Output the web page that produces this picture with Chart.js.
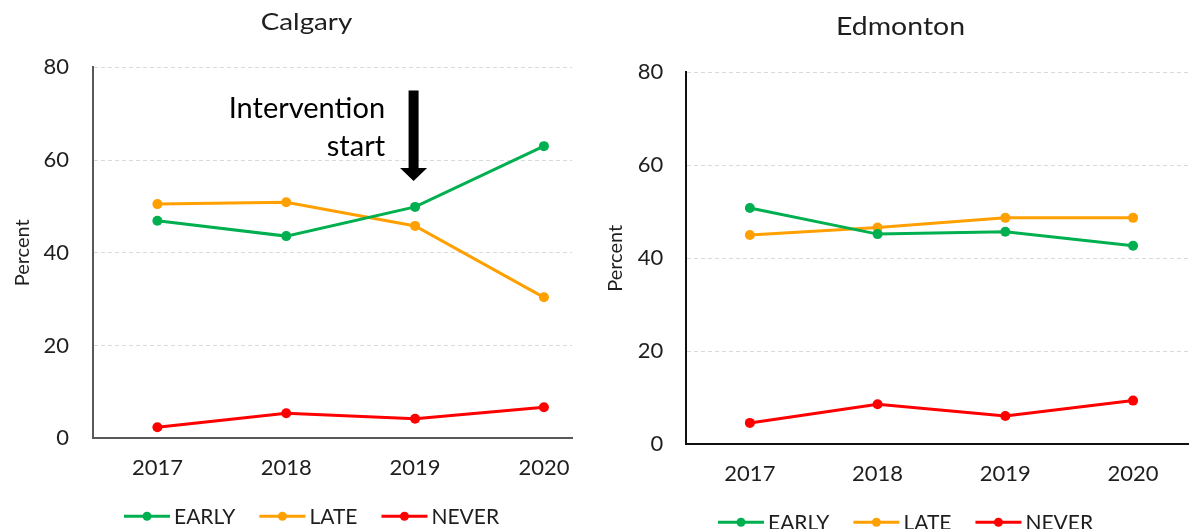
<!DOCTYPE html>
<html>
<head>
<meta charset="utf-8">
<script src="https://cdn.jsdelivr.net/npm/chart.js@4.4.1/dist/chart.umd.min.js"></script>
<style>
  html, body { margin: 0; padding: 0; background: #ffffff; }
  body { width: 1193px; height: 529px; position: relative; overflow: hidden; }
  .panel { position: absolute; top: 0; height: 529px; }
</style>
</head>
<body>
<div class="panel" style="left:0;width:596px"><canvas id="calgary" width="596" height="529"></canvas></div>
<div class="panel" style="left:596px;width:597px"><canvas id="edmonton" width="597" height="529"></canvas></div>
<script>
// Survey years on the x axis
const years = ['2017', '2018', '2019', '2020'];
// Percent axis
const yTicks = [0, 20, 40, 60, 80];

// Series names and colours
const seriesNames = ['EARLY', 'LATE', 'NEVER'];
const seriesColors = ['#00B050', '#FFA000', '#FF0000'];

// Calgary, percent by year
const calgaryEarly = [46.9, 43.6, 49.9, 63.0];
const calgaryLate  = [50.5, 50.9, 45.8, 30.4];
const calgaryNever = [2.4, 5.4, 4.2, 6.7];

// Edmonton, percent by year
const edmontonEarly = [50.8, 45.2, 45.7, 42.7];
const edmontonLate  = [45.0, 46.6, 48.7, 48.7];
const edmontonNever = [4.6, 8.6, 6.1, 9.4];

// Intervention marker (Calgary): year index and arrow span in percent units
const interventionText = ['Intervention', 'start'];
const interventionYear = 2;
const arrowTop = 75.0;
const arrowTip = 55.5;

const FONT = 'Lato, "Open Sans", sans-serif';
const TEXT = '#1e1e1e';

// Chart heading, drawn slightly widened
const panelTitle = {
  id: 'panelTitle',
  afterDraw(chart, args, o) {
    const ctx = chart.ctx;
    ctx.save();
    ctx.font = o.size + 'px ' + FONT;
    ctx.fillStyle = TEXT;
    ctx.textAlign = 'center';
    ctx.textBaseline = 'alphabetic';
    const w = ctx.measureText(o.text).width;
    const sx = o.width / w;
    ctx.translate(o.x, o.baseline);
    ctx.scale(sx, 1);
    ctx.fillText(o.text, 0, 0);
    ctx.restore();
  }
};

// Legend drawn as line + marker samples below the x axis
const lineLegend = {
  id: 'lineLegend',
  afterDraw(chart, args, opts) {
    const ctx = chart.ctx;
    const y = chart.chartArea.bottom + opts.offsetY;
    let x = opts.startX;
    ctx.save();
    ctx.font = '21px ' + FONT;
    ctx.textBaseline = 'middle';
    ctx.textAlign = 'left';
    chart.data.datasets.forEach(ds => {
      ctx.strokeStyle = ds.borderColor;
      ctx.lineWidth = 3;
      ctx.beginPath();
      ctx.moveTo(x, y);
      ctx.lineTo(x + 46, y);
      ctx.stroke();
      ctx.fillStyle = ds.borderColor;
      ctx.beginPath();
      ctx.arc(x + 23, y, 4.5, 0, Math.PI * 2);
      ctx.fill();
      ctx.fillStyle = TEXT;
      ctx.fillText(ds.label, x + 50, y + 1);
      x += 50 + ctx.measureText(ds.label).width + 24;
    });
    ctx.restore();
  }
};

// Arrow and caption marking the start of the intervention
const interventionMark = {
  id: 'interventionMark',
  afterDatasetsDraw(chart, args, opts) {
    if (!opts.show) return;
    const ctx = chart.ctx;
    const xs = chart.scales.x, ys = chart.scales.y;
    const cx = xs.getPixelForValue(interventionYear) - 1.5;
    const top = ys.getPixelForValue(arrowTop);
    const tip = ys.getPixelForValue(arrowTip);
    const headH = 13, headW = 13.5, shaftW = 5;
    ctx.save();
    ctx.fillStyle = '#000000';
    ctx.fillRect(cx - shaftW, top, shaftW * 2, tip - top - headH + 1);
    ctx.beginPath();
    ctx.moveTo(cx - headW, tip - headH);
    ctx.lineTo(cx + headW, tip - headH);
    ctx.lineTo(cx, tip);
    ctx.closePath();
    ctx.fill();
    ctx.font = '29px ' + FONT;
    ctx.textAlign = 'right';
    ctx.textBaseline = 'middle';
    ctx.fillText(interventionText[0], cx - 28.5, top + 18);
    ctx.fillText(interventionText[1], cx - 28.5, top + 56);
    ctx.restore();
  }
};

function toPoints(values) {
  return values.map((v, i) => ({ x: i, y: v }));
}

function buildChart(id, title, series, p) {
  const datasets = series.map((values, i) => ({
    label: seriesNames[i],
    data: toPoints(values),
    borderColor: seriesColors[i],
    backgroundColor: seriesColors[i],
    pointBackgroundColor: seriesColors[i],
    pointBorderWidth: 0,
    pointRadius: 5,
    pointHoverRadius: 5,
    borderWidth: 3,
    tension: 0,
    fill: false
  }));
  return new Chart(document.getElementById(id), {
    type: 'line',
    data: { datasets },
    plugins: [panelTitle, lineLegend, interventionMark],
    options: {
      responsive: false,
      animation: false,
      devicePixelRatio: 1,
      layout: { padding: { left: 0, right: p.padRight, top: p.padTop, bottom: p.padBottom } },
      plugins: {
        legend: { display: false },
        tooltip: { enabled: false },
        title: { display: false },
        panelTitle: { text: title, x: p.titleX, baseline: p.titleBase, size: p.titleSize, width: p.titleWidth },
        lineLegend: { startX: p.legendX, offsetY: 78 },
        interventionMark: { show: p.arrow }
      },
      scales: {
        x: {
          type: 'linear',
          min: -0.5,
          max: p.xMax,
          afterBuildTicks(scale) {
            scale.ticks = years.map((_, i) => ({ value: i }));
          },
          afterFit(scale) { scale.height = 40; },
          ticks: {
            color: TEXT,
            padding: 16,
            font: { family: FONT, size: 22 },
            callback: v => years[v]
          },
          grid: { display: false, drawTicks: false },
          border: { display: true, color: p.axisColor, width: 2 }
        },
        y: {
          min: 0,
          max: 80,
          afterBuildTicks(scale) {
            scale.ticks = yTicks.map(v => ({ value: v }));
          },
          afterFit(scale) { scale.width = p.axisW; },
          ticks: {
            color: TEXT,
            padding: p.tickPad,
            font: { family: FONT, size: 22 }
          },
          grid: {
            color: '#D9D9D9',
            lineWidth: 1,
            drawTicks: false
          },
          // solid axis line; dashed horizontal grid lines
          border: { display: true, color: p.axisColor, width: 2, dash: [4, 3] },
          title: {
            display: true,
            text: 'Percent',
            color: TEXT,
            font: { family: FONT, size: 20, lineHeight: 1.2 },
            padding: { top: p.yTitlePad, bottom: 0 }
          }
        }
      }
    }
  });
}

buildChart('calgary', 'Calgary', [calgaryEarly, calgaryLate, calgaryNever], {
  axisW: 93, xMax: 3.218, padRight: 24, padTop: 67.3, padBottom: 50.7,
  titleX: 306.5, titleBase: 29.5, titleSize: 23, titleWidth: 91.5,
  axisColor: '#595959', tickPad: 24, yTitlePad: 11, legendX: 124, arrow: true
});

buildChart('edmonton', 'Edmonton', [edmontonEarly, edmontonLate, edmontonNever], {
  axisW: 90, xMax: 3.43, padRight: 0, padTop: 72.3, padBottom: 44.7,
  titleX: 304.5, titleBase: 35, titleSize: 25, titleWidth: 129,
  axisColor: '#111111', tickPad: 22.7, yTitlePad: 8, legendX: 122, arrow: false
});
</script>
</body>
</html>
